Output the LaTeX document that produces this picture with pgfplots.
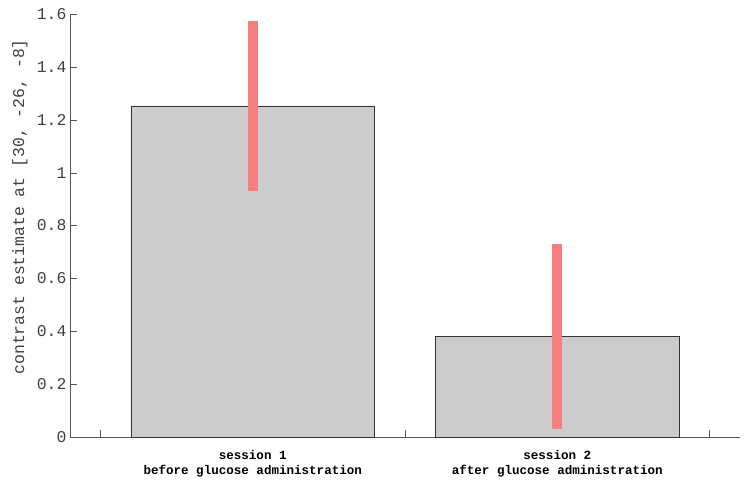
\documentclass[border=0pt]{standalone}
\usepackage{fontspec}
\setmainfont{Liberation Mono}
\usepackage{pgfplots}
\pgfplotsset{compat=1.18}
\usetikzlibrary{calc}

\definecolor{barfill}{HTML}{CCCCCC}
\definecolor{baredge}{HTML}{333333}
\definecolor{errred}{HTML}{F47F7F}
\definecolor{axisgray}{HTML}{555555}
\definecolor{labelgray}{HTML}{404040}

\begin{document}
\begin{tikzpicture}
\begin{axis}[
    scale only axis,
    width=670bp, height=423bp,
    xmin=0.4, xmax=2.6,
    ymin=0, ymax=1.6,
    axis lines=left,
    axis line style={-, draw=axisgray},
    tick align=inside,
    major tick length=7bp,
    tick style={draw=axisgray},
    xtick={0.5,1.5,2.5},
    xticklabels={},
    extra x ticks={1,2},
    extra x tick labels={{\textbf{session 1}\\\textbf{before glucose administration}},
                         {\textbf{session 2}\\\textbf{after glucose administration}}},
    extra x tick style={major tick length=0pt,
        xticklabel style={align=center, font=\fontsize{12.6}{15}\selectfont,
            text=black, yshift=-10bp}},
    ytick={0,0.2,0.4,0.6,0.8,1,1.2,1.4,1.6},
    yticklabel style={font=\fontsize{16.5}{18}\selectfont, text=labelgray},
    /pgf/number format/assume math mode=true,
    ylabel={contrast estimate at [30, -26, -8]},
    ylabel style={at={(axis description cs:-0.075,0.544)}, anchor=center,
        font=\fontsize{16.5}{18}\selectfont, text=labelgray},
    clip=false,
]
\addplot[ybar, bar width=0.8, fill=barfill, draw=baredge, line width=0.8bp]
    coordinates {(1,1.252) (2,0.382)};
\addplot[line width=10bp, color=errred, line cap=butt]
    coordinates {(1,0.930) (1,1.573)};
\addplot[line width=10bp, color=errred, line cap=butt]
    coordinates {(2,0.030) (2,0.730)};
\end{axis}
\path ($(current axis.south west)+(-70bp,-41bp)$) rectangle ($(current axis.north east)+(4bp,14bp)$);
\end{tikzpicture}
\end{document}
